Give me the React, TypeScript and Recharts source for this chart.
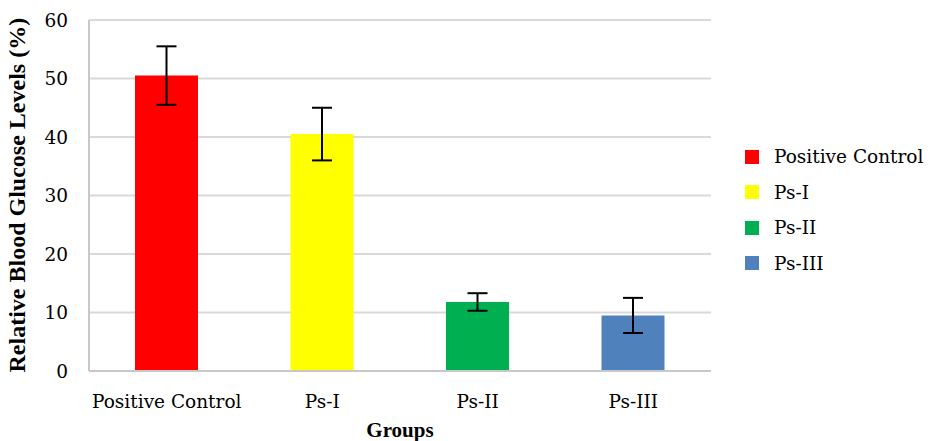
import { BarChart, Bar, XAxis, YAxis, CartesianGrid, Cell, ErrorBar } from 'recharts';

document.body.style.margin = '0';

const groups = ['Positive Control', 'Ps-I', 'Ps-II', 'Ps-III'];
const glucose = [50.5, 40.5, 11.8, 9.5];
const errors = [5, 4.5, 1.5, 3];
const colors = ['#FF0000', '#FFFF00', '#00B050', '#4F81BD'];
const yTicks = [0, 10, 20, 30, 40, 50, 60];

const data = groups.map((g, i) => ({ group: g, value: glucose[i], err: errors[i] }));

const font = 'DejaVu Serif';
const boldFont = 'Liberation Serif';

const GroupLegend = () => (
  <div style={{ position: 'absolute', left: 745, top: 139, fontSize: 18.5, color: '#000', fontFamily: font }}>
    {groups.map((g, i) => (
      <div key={g} style={{ display: 'flex', alignItems: 'center', height: 35.5 }}>
        <span style={{ width: 14, height: 14, background: colors[i], display: 'inline-block', marginRight: 15 }} />
        <span>{g}</span>
      </div>
    ))}
  </div>
);

const App = () => {
  return (
    <div style={{ position: 'relative', width: 930, height: 441 }}>
      <BarChart width={930} height={441} data={data} margin={{ top: 20, right: 219, left: 0, bottom: 0 }} barSize={63}>
        <CartesianGrid vertical={false} stroke="#d9d9d9" strokeWidth={2} />
        <XAxis
          dataKey="group"
          height={70}
          tickLine={false}
          axisLine={{ stroke: '#c8c8c8', strokeWidth: 2 }}
          tick={{ fill: '#000', fontFamily: font, fontSize: 18.5 }}
          tickMargin={18}
          label={{ value: 'Groups', position: 'insideBottom', offset: 4, fill: '#000', fontFamily: boldFont, fontSize: 21, fontWeight: 700 }}
        />
        <YAxis
          width={89}
          domain={[0, 60]}
          ticks={yTicks}
          tickLine={false}
          axisLine={{ stroke: '#c8c8c8', strokeWidth: 2 }}
          tick={{ fill: '#000', fontFamily: font, fontSize: 18.5 }}
          tickMargin={15}
          label={{ value: 'Relative Blood Glucose Levels (%)', angle: -90, position: 'insideLeft', offset: 16, dy: 177, fill: '#000', fontFamily: boldFont, fontSize: 24, fontWeight: 700 }}
        />
        <Bar dataKey="value" isAnimationActive={false}>
          {data.map((d, i) => (
            <Cell key={`cell-${i}`} fill={colors[i]} />
          ))}
          <ErrorBar dataKey="err" width={10} stroke="#000" strokeWidth={2} />
        </Bar>
      </BarChart>
      <GroupLegend />
    </div>
  );
};

export default App;
